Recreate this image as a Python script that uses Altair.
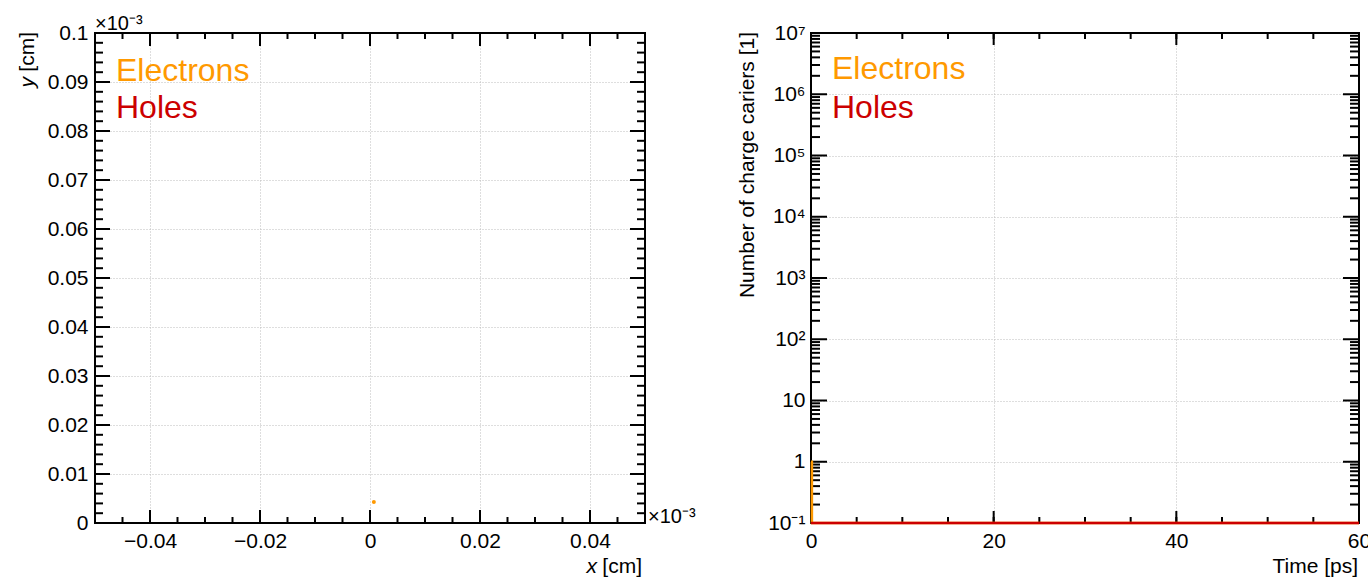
import altair as alt
import pandas as pd

FONT = "Liberation Sans"

series_names = ["Electrons", "Holes"]
series_colors = ["#ff9900", "#cc0000"]

# Carrier positions, in units of 1e-3 cm
electron_x = [0.0007]
electron_y = [0.0043]

# Number of carriers over time
time_ps = [0.0, 0.1, 60.0]
electron_count = [1, 0, 0]
hole_count = [0, 0, 0]

# Position panel axes (1e-3 cm)
pos_x_domain = [-0.05, 0.05]
pos_y_domain = [0.0, 0.1]
pos_x_labels = [-0.04, -0.02, 0.0, 0.02, 0.04]
pos_y_labels = [0.0, 0.01, 0.02, 0.03, 0.04, 0.05, 0.06, 0.07, 0.08, 0.09, 0.1]
pos_x_minor = [round(-0.05 + 0.005 * i, 4) for i in range(21)]
pos_y_minor = [round(0.002 * i, 4) for i in range(51)]

# Time panel axes
time_domain = [0, 60]
time_labels = [0, 20, 40, 60]
time_minor = list(range(0, 61, 5))
count_domain = [0.1, 1e7]
count_decades = [0.1, 1, 10, 100, 1e3, 1e4, 1e5, 1e6, 1e7]
count_decade_labels = ["10⁻¹", "1", "10", "10²", "10³", "10⁴", "10⁵", "10⁶", "10⁷"]
count_minor = [k * d for d in count_decades[:-1] for k in range(2, 10)]

W1, W2, H = 550, 548, 490
PAGE_W, PAGE_H = 1368, 580
LEFT, TOP = 95, 33


def tick_rules(values, channel, scale, axis, length, width, far=False):
    """Inward-pointing ticks along one edge of the frame."""
    df = pd.DataFrame({"v": values})
    base = alt.Chart(df).mark_rule(color="black", strokeWidth=2)
    if channel == "x":
        y0, y1 = (0, length) if far else (H, H - length)
        return base.encode(x=alt.X("v:Q", scale=scale, axis=axis),
                           y=alt.value(y0), y2=alt.value(y1))
    x0, x1 = (width, width - length) if far else (0, length)
    return base.encode(y=alt.Y("v:Q", scale=scale, axis=axis),
                       x=alt.value(x0), x2=alt.value(x1))


def text(t, x, y, size=21, color="black", align="left", angle=0, style="normal"):
    return alt.Chart(pd.DataFrame({"t": [t]})).mark_text(
        align=align, baseline="alphabetic", font=FONT, fontSize=size,
        color=color, angle=angle, fontStyle=style
    ).encode(text="t:N", x=alt.value(x), y=alt.value(y))


def frame(width):
    return alt.Chart(pd.DataFrame({"f": [0]})).mark_rect(
        fillOpacity=0, stroke="black", strokeWidth=2
    ).encode(x=alt.value(0), x2=alt.value(width), y=alt.value(0), y2=alt.value(H))


def tick_set(xmaj, xmin, ymaj, ymin, xs, ys, ax, ay, width, xlen, ylen):
    layers = []
    for far in (False, True):
        layers.append(tick_rules(xmin, "x", xs, ax, xlen[1], width, far))
        layers.append(tick_rules(xmaj, "x", xs, ax, xlen[0], width, far))
        layers.append(tick_rules(ymin, "y", ys, ay, ylen[1], width, far))
        layers.append(tick_rules(ymaj, "y", ys, ay, ylen[0], width, far))
    return layers


# ---- left panel: carrier positions ----
xs_pos = alt.Scale(domain=pos_x_domain, nice=False, zero=False)
ys_pos = alt.Scale(domain=pos_y_domain, nice=False, zero=False)
ax_pos = alt.Axis(values=pos_x_labels, format="~g", grid=True, title=None,
                  labelFlush=False, labelOverlap=False)
ay_pos = alt.Axis(values=pos_y_labels, format="~g", grid=True, title=None,
                  labelOverlap=False)

positions = pd.DataFrame({"x": electron_x, "y": electron_y})
dots = alt.Chart(positions).mark_circle(size=16, opacity=1, color=series_colors[0]).encode(
    x=alt.X("x:Q", scale=xs_pos, axis=ax_pos),
    y=alt.Y("y:Q", scale=ys_pos, axis=ay_pos),
)

left = alt.layer(
    frame(W1),
    *tick_set(pos_x_labels, pos_x_minor, pos_y_labels, pos_y_minor, xs_pos, ys_pos,
              ax_pos, ay_pos, W1, (13, 6), (15, 8)),
    dots,
    text(series_names[0], 21, 48, size=32, color=series_colors[0]),
    text(series_names[1], 21, 85, size=32, color=series_colors[1]),
    text("×10⁻³", 0, -3, size=20),
    text("×10⁻³", W1 + 3, H, size=20),
    text("[cm]", 547, H + 50, align="right"),
    text("x", 502, H + 50, align="right", style="italic"),
    text("[cm]", -61, -1, align="right", angle=270),
    text("y", -61, 44, align="right", angle=270, style="italic"),
).properties(width=W1, height=H)

# ---- right panel: number of carriers vs time ----
xs_t = alt.Scale(domain=time_domain, nice=False, zero=False)
ys_n = alt.Scale(type="log", domain=count_domain, nice=False)

label_expr = " : ".join(
    f"abs(log(datum.value) / LN10 - ({i - 1})) < 0.01 ? '{lab}'"
    for i, lab in enumerate(count_decade_labels)
) + " : ''"

ax_t = alt.Axis(values=time_labels, format="d", grid=True, title=None,
                labelFlush=False, labelOverlap=False)
ay_n = alt.Axis(values=count_decades, labelExpr=label_expr, grid=True,
                title=None, labelOverlap=False, labelPadding=6)

counts = pd.DataFrame({
    "time": time_ps * 2,
    "count": electron_count + hole_count,
    "series": [series_names[0]] * len(time_ps) + [series_names[1]] * len(time_ps),
})


def count_line(name, color):
    return alt.Chart(counts).transform_filter(
        alt.datum.series == name
    ).transform_calculate(
        shown="max(datum.count, 0.1)"
    ).mark_line(interpolate="step-after", color=color, strokeWidth=2.5).encode(
        x=alt.X("time:Q", scale=xs_t, axis=ax_t),
        y=alt.Y("shown:Q", scale=ys_n, axis=ay_n),
    )


right = alt.layer(
    frame(W2),
    *tick_set(time_labels, time_minor, count_decades, count_minor, xs_t, ys_n,
              ax_t, ay_n, W2, (12, 6), (16, 9)),
    count_line(series_names[0], series_colors[0]),
    count_line(series_names[1], series_colors[1]),
    text(series_names[0], 21, 46, size=32, color=series_colors[0]),
    text(series_names[1], 21, 85, size=32, color=series_colors[1]),
    text("Time [ps]", W2 - 1, H + 50, align="right"),
    text("Number of charge cariers [1]", -57, -1, align="right", angle=270),
).properties(width=W2, height=H)

# With autosize "none" the drawing size is just the padding, so the padding
# carries the full page size and the panels are placed from its top-left corner.
chart = alt.hconcat(left, right, spacing=166, bounds="flush").properties(
    padding={"left": LEFT, "top": TOP, "right": PAGE_W - LEFT, "bottom": PAGE_H - TOP},
    autosize=alt.AutoSizeParams(type="none"),
    background="white",
).configure_view(
    strokeWidth=0
).configure_axis(
    labelFont=FONT, labelFontSize=21, labelColor="black", labelPadding=7,
    domain=False, ticks=False,
    gridColor="#bdbdbd", gridDash=[1, 2], gridWidth=1,
)

chart.save("out.html", embed_options={"renderer": "svg", "actions": False})
